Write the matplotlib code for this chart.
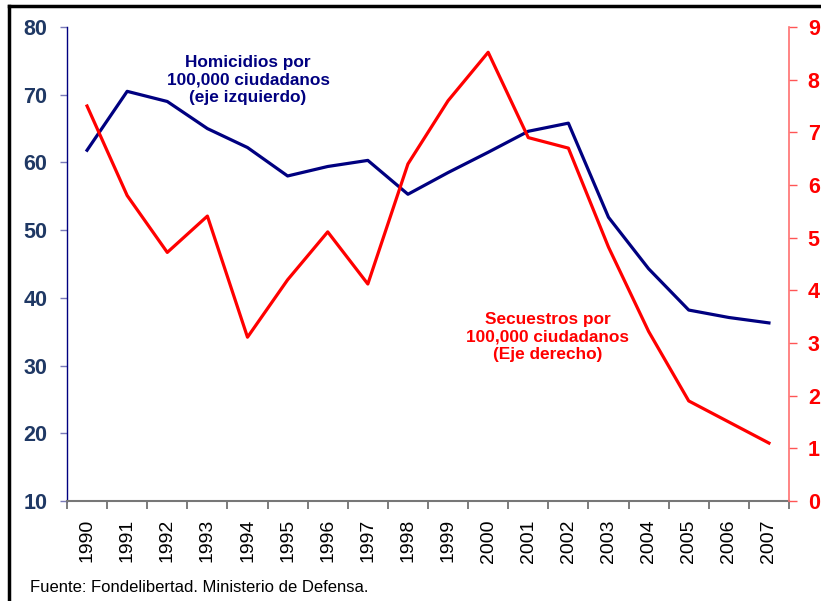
import matplotlib.pyplot as plt
from matplotlib.lines import Line2D

# datos
years = [str(y) for y in range(1990, 2008)]
homicidios = [61.8, 70.5, 69.0, 65.0, 62.2, 58.0, 59.4, 60.3, 55.3, 58.5,
              61.5, 64.6, 65.8, 51.9, 44.3, 38.2, 37.1, 36.3]
secuestros = [7.5, 5.8, 4.72, 5.41, 3.11, 4.2, 5.11, 4.12, 6.4, 7.6,
              8.52, 6.9, 6.7, 4.82, 3.22, 1.9, 1.5, 1.1]
left_ticks = [10, 20, 30, 40, 50, 60, 70, 80]
right_ticks = list(range(0, 10))

plt.rcParams['font.family'] = ['Liberation Sans', 'DejaVu Sans']

navy = '#000080'
red = '#ff0000'

fig = plt.figure(figsize=(8.21, 6.01), dpi=100)
ax1 = fig.add_axes([67 / 821, 100 / 601, 722 / 821, 474 / 601])
x = list(range(len(years)))

ax1.plot(x, homicidios, color=navy, linewidth=2.3, zorder=3)
ax1.set_ylim(10, 80)
ax1.set_xlim(-0.5, len(years) - 0.5)
ax1.set_yticks(left_ticks)
ax1.tick_params(axis='y', direction='out', length=5, width=1, color='#7a7ab8',
                labelcolor='#1f3864', labelsize=15.5, pad=9)
for lab in ax1.get_yticklabels():
    lab.set_fontweight('bold')

# eje x: etiquetas centradas, marcas entre categorias
ax1.set_xticks(x)
ax1.set_xticklabels(years, rotation=90, fontsize=14, color='black')
ax1.set_xticks([i - 0.5 for i in range(len(years) + 1)], minor=True)
ax1.tick_params(axis='x', which='major', length=0, pad=13)
ax1.tick_params(axis='x', which='minor', length=6, width=1.2, color='#666666')

ax1.spines['top'].set_visible(False)
ax1.spines['right'].set_visible(False)
ax1.spines['left'].set_color(navy)
ax1.spines['left'].set_linewidth(1)
ax1.spines['bottom'].set_color('#777777')
ax1.spines['bottom'].set_linewidth(1.5)

ax2 = ax1.twinx()
ax2.plot(x, secuestros, color=red, linewidth=2.3, zorder=3)
ax2.set_ylim(0, 9)
ax2.set_yticks(right_ticks)
ax2.tick_params(axis='y', direction='out', length=5.5, width=1, color='#ff5555',
                labelcolor=red, labelsize=15.5, pad=8)
for lab in ax2.get_yticklabels():
    lab.set_fontweight('bold')
for s in ['top', 'left', 'bottom']:
    ax2.spines[s].set_visible(False)
ax2.spines['right'].set_color('#ff7070')
ax2.spines['right'].set_linewidth(1.2)

# rotulos de las series
fig.text(248 / 821, 1 - 80 / 601, 'Homicidios por\n100,000 ciudadanos\n(eje izquierdo)',
         ha='center', va='center', color=navy, fontsize=12.4, fontweight='bold',
         linespacing=1.22)
fig.text(548 / 821, 1 - 337 / 601, 'Secuestros por\n100,000 ciudadanos\n(Eje derecho)',
         ha='center', va='center', color=red, fontsize=12.4, fontweight='bold',
         linespacing=1.22)

fig.text(30 / 821, 1 - 587 / 601, 'Fuente: Fondelibertad. Ministerio de Defensa.',
         ha='left', va='center', fontsize=12, color='black')

# marco negro (izquierda y arriba)
fig.add_artist(Line2D([9 / 821, 9 / 821], [0, 1 - 6 / 601], transform=fig.transFigure,
                      color='black', linewidth=2.5))
fig.add_artist(Line2D([9 / 821, 1], [1 - 6 / 601, 1 - 6 / 601], transform=fig.transFigure,
                      color='black', linewidth=2.5))

fig.savefig('out.png', dpi=100)
